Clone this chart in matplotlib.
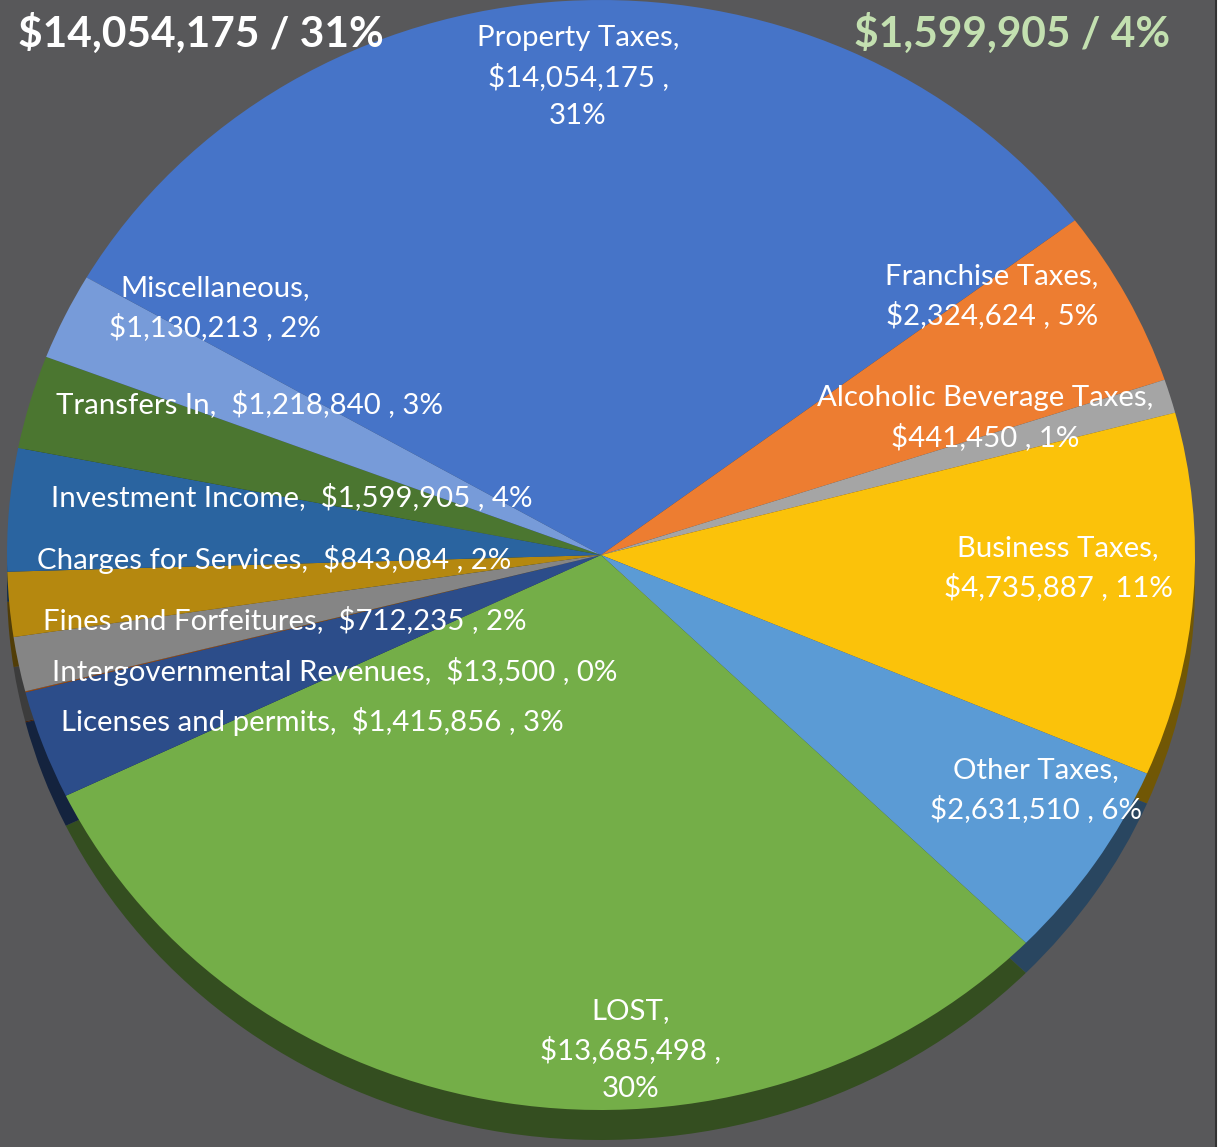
import matplotlib.pyplot as plt
import matplotlib.colors as mcolors
from matplotlib.patches import Rectangle

plt.rcParams['font.family'] = ['Lato', 'DejaVu Sans']

W, H = 1229, 1147

# revenue categories, clockwise from the top
categories = ["Property Taxes", "Franchise Taxes", "Alcoholic Beverage Taxes",
              "Business Taxes", "Other Taxes", "LOST", "Licenses and permits",
              "Intergovernmental Revenues", "Fines and Forfeitures",
              "Charges for Services", "Investment Income", "Transfers In",
              "Miscellaneous"]
amounts = [14054175, 2324624, 441450, 4735887, 2631510, 13685498, 1415856,
           13500, 712235, 843084, 1599905, 1218840, 1130213]
percents = [31, 5, 1, 11, 6, 30, 3, 0, 2, 2, 4, 3, 2]
headline_left = "$14,054,175 / 31%"
headline_right = "$1,599,905 / 4%"

colors = ["#4674c8", "#ed7d31", "#a5a5a5", "#fbc20a", "#5b9bd5", "#74ae48",
          "#2c4d8a", "#9e480e", "#858585", "#b5880f", "#2a64a0", "#4b7630",
          "#779bd9"]

# label layout: how the label text breaks and where its centre sits (pixels)
label_lines = [3, 2, 2, 2, 2, 3, 1, 1, 1, 1, 1, 1, 2]
label_xy = [(578, 77), (992, 296), (985, 418), (1058, 568), (1036, 790),
            (631, 1050), (312, 722), (335, 671), (285, 620), (274, 560),
            (292, 497), (250, 404), (215, 308)]


def make_label(name, value, pct, lines):
    money = f"${value:,}"
    if lines == 3:
        return f"{name},\n{money} ,\n{pct}%"
    if lines == 2:
        return f"{name},\n{money} , {pct}%"
    return f"{name},  {money} , {pct}%"


def darker(c, f):
    r, g, b = mcolors.to_rgb(c)
    return (r * f, g * f, b * f)


fig = plt.figure(figsize=(W / 100, H / 100), dpi=100)
fig.patch.set_facecolor("#58585a")

# pie axes: ellipse spanning the pie's box in the picture
cx, cy, rx, ry = 601, 555, 594, 555
depth = 30
pax = fig.add_axes([(cx - rx) / W, (H - cy - ry) / H, 2 * rx / W, 2 * ry / H])
pax.set_facecolor("none")

# side of the 3D disc, drawn first and shifted down
pax.pie(amounts, colors=[darker(c, 0.45) for c in colors], startangle=150,
        counterclock=False, radius=1, center=(0, -depth / ry),
        wedgeprops=dict(linewidth=0))
pax.pie(amounts, colors=colors, startangle=150, counterclock=False, radius=1,
        wedgeprops=dict(linewidth=0))
pax.set_aspect("auto")
pax.set_xlim(-1, 1)
pax.set_ylim(-1, 1)
for p in pax.patches:
    p.set_clip_on(False)

# overlay axes in pixel coordinates for text
ax = fig.add_axes([0, 0, 1, 1])
ax.set_xlim(0, W)
ax.set_ylim(H, 0)
ax.axis("off")
ax.patch.set_alpha(0)

for name, v, pct, n, (x, y) in zip(categories, amounts, percents, label_lines, label_xy):
    ax.text(x, y, make_label(name, v, pct, n), ha="center", va="center",
            color="white", fontsize=21.2, linespacing=1.55)

ax.text(18, 33, headline_left, ha="left", va="center", color="white",
        fontsize=30.5, fontweight="bold")
ax.text(1170, 33, headline_right, ha="right", va="center", color="#c3e0b0",
        fontsize=30.5, fontweight="bold")

# light strip at the right edge
ax.add_patch(Rectangle((1216, 0), W - 1216, H, facecolor="white",
                       edgecolor="none", zorder=5))
ax.plot([1216, 1216], [0, H], color="#333333", lw=1.5, zorder=6)

fig.savefig("out.png", dpi=100, facecolor=fig.get_facecolor())
